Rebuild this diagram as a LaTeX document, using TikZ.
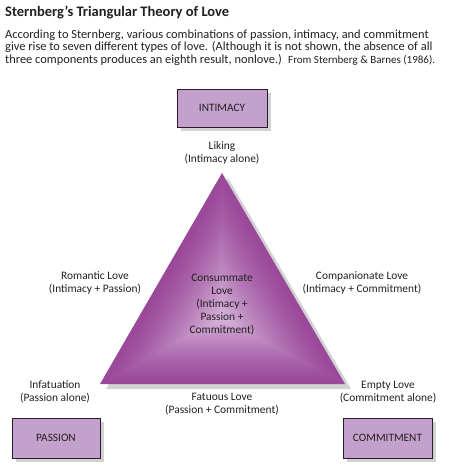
\documentclass[tikz,border=0pt]{standalone}
\usepackage{fontspec}
\setmainfont{Carlito}
\usetikzlibrary{calc,shadows}
\definecolor{txt}{HTML}{231F20}
\definecolor{boxfill}{HTML}{C4A1CD}
\definecolor{boxline}{HTML}{2A1A2A}
\definecolor{shadowc}{HTML}{D2D2D2}
\definecolor{triedge}{HTML}{9A4899}
\definecolor{tricenter}{HTML}{D8B8DC}
\begin{document}
\begin{tikzpicture}[x=1pt,y=-1pt,
  lab/.style={align=center, font=\fontsize{11.4}{13}\selectfont, text=txt, inner sep=0pt},
  body/.style={anchor=base west, inner sep=0pt, text=txt, font=\fontsize{12.4}{14}\selectfont},
  comp/.style={draw=boxline, line width=0.6pt, fill=boxfill, inner sep=0pt,
    font=\fontsize{11.3}{12}\selectfont, text=txt,
    drop shadow={shadow xshift=4pt, shadow yshift=-4pt, fill=shadowc, opacity=1}}]
\useasboundingbox (0,0) rectangle (448,474);
% title and caption
\node[body, font=\bfseries\fontsize{14.5}{16}\selectfont] (title) at (5,16) {Sternberg’s Triangular Theory of Love};
\node[body] (l1) at (5,38) {According to Sternberg, various combinations of passion, intimacy, and commitment};
\node[body] (l2) at (5,50.7) {give rise to seven different types of love. (Although it is not shown, the absence of all};
\node[body] (l3) at (5,63.4) {three components produces an eighth result, nonlove.)};
\node[body, font=\fontsize{11}{12}\selectfont] (src) at (288,63.4) {From Sternberg \& Barnes (1986).};
% triangle
\coordinate (A) at (222,173);
\coordinate (B) at (100,384);
\coordinate (C) at (345,384);
\coordinate (P) at (222,318);
\fill[shadowc] ([shift={(6,5)}]A) -- ([shift={(6,5)}]B) -- ([shift={(6,5)}]C) -- cycle;
\foreach \i in {0,...,40}{
  \pgfmathsetmacro{\s}{1-\i/40}
  \pgfmathsetmacro{\m}{100*(\i/40)^1.3}
  \fill[tricenter!\m!triedge] ($(P)!\s!(A)$) -- ($(P)!\s!(B)$) -- ($(P)!\s!(C)$) -- cycle;
}
% boxes
\node[comp, minimum width=90pt, minimum height=38pt] (int) at (222,108) {INTIMACY};
\node[comp, minimum width=88pt, minimum height=40pt] (pas) at (56,438) {PASSION};
\node[comp, minimum width=89pt, minimum height=40pt] (com) at (387.5,438) {COMMITMENT};
% labels
\node[lab] (liking) at (222,153) {Liking\\(Intimacy alone)};
\node[lab] (rom) at (95,283) {Romantic Love\\(Intimacy + Passion)};
\node[lab] (compa) at (362,283) {Companionate Love\\(Intimacy + Commitment)};
\node[lab] (cons) at (222,305) {Consummate\\Love\\(Intimacy +\\Passion +\\Commitment)};
\node[lab] (inf) at (55,392) {Infatuation\\(Passion alone)};
\node[lab] (fat) at (222,404) {Fatuous Love\\(Passion + Commitment)};
\node[lab] (emp) at (388,392) {Empty Love\\(Commitment alone)};
\end{tikzpicture}
\end{document}
